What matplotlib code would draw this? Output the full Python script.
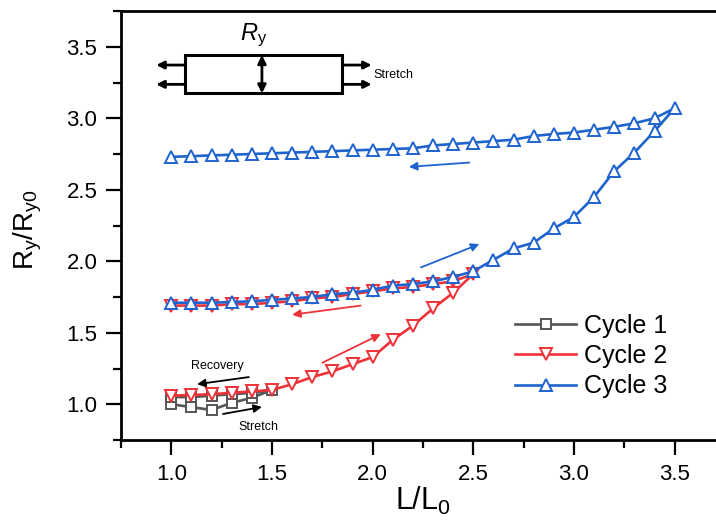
import numpy as np
import matplotlib.pyplot as plt
from matplotlib.ticker import MultipleLocator
from matplotlib.patches import Rectangle

plt.rcParams['font.family'] = ['Liberation Sans', 'DejaVu Sans']
plt.rcParams['mathtext.fontset'] = 'custom'
plt.rcParams['mathtext.rm'] = 'Liberation Sans'
plt.rcParams['mathtext.it'] = 'Liberation Sans:italic'

# Cycle 1 (stretch 1.0 -> 1.5, recovery back)
c1_x = [1.0, 1.1, 1.2, 1.3, 1.4, 1.5, 1.4, 1.3, 1.2, 1.1, 1.0]
c1_y = [1.00, 0.98, 0.96, 1.01, 1.045, 1.10, 1.08, 1.07, 1.06, 1.05, 1.05]

# Cycle 2 (stretch 1.0 -> 2.5, recovery back)
c2_stretch_x = [1.0, 1.1, 1.2, 1.3, 1.4, 1.5, 1.6, 1.7, 1.8, 1.9, 2.0, 2.1, 2.2, 2.3, 2.4, 2.5]
c2_stretch_y = [1.06, 1.065, 1.07, 1.08, 1.09, 1.10, 1.14, 1.19, 1.23, 1.28, 1.33, 1.45, 1.55, 1.67, 1.78, 1.91]
c2_recover_x = [2.4, 2.3, 2.2, 2.1, 2.0, 1.9, 1.8, 1.7, 1.6, 1.5, 1.4, 1.3, 1.2, 1.1, 1.0]
c2_recover_y = [1.86, 1.84, 1.82, 1.81, 1.79, 1.77, 1.75, 1.74, 1.72, 1.71, 1.70, 1.70, 1.69, 1.69, 1.69]

# Cycle 3 (stretch 1.0 -> 3.5, recovery back)
c3_stretch_x = [1.0, 1.1, 1.2, 1.3, 1.4, 1.5, 1.6, 1.7, 1.8, 1.9, 2.0, 2.1, 2.2, 2.3, 2.4, 2.5,
                2.6, 2.7, 2.8, 2.9, 3.0, 3.1, 3.2, 3.3, 3.4, 3.5]
c3_stretch_y = [1.71, 1.71, 1.71, 1.715, 1.72, 1.73, 1.74, 1.75, 1.77, 1.78, 1.80, 1.83, 1.84, 1.86, 1.89, 1.93,
                2.01, 2.09, 2.13, 2.23, 2.31, 2.45, 2.63, 2.76, 2.91, 3.07]
c3_recover_x = [3.4, 3.3, 3.2, 3.1, 3.0, 2.9, 2.8, 2.7, 2.6, 2.5, 2.4, 2.3, 2.2, 2.1, 2.0,
                1.9, 1.8, 1.7, 1.6, 1.5, 1.4, 1.3, 1.2, 1.1, 1.0]
c3_recover_y = [3.00, 2.965, 2.94, 2.92, 2.90, 2.89, 2.876, 2.85, 2.84, 2.83, 2.82, 2.81, 2.79, 2.785, 2.78,
                2.775, 2.77, 2.765, 2.76, 2.755, 2.75, 2.745, 2.74, 2.735, 2.73]

labels = ["Cycle 1", "Cycle 2", "Cycle 3"]
colors = ["#555555", "#EE3238", "#1F63CF"]

fig = plt.figure(figsize=(7.16, 5.28), dpi=100)
ax = fig.add_axes([121 / 716, 88 / 528, 604 / 716, 429 / 528])

mk = dict(markerfacecolor="white", markeredgewidth=1.4, linewidth=1.9)
ax.plot(c1_x, c1_y, marker="s", markersize=6.5, color=colors[0], label=labels[0], **mk)
ax.plot(c2_stretch_x + c2_recover_x, c2_stretch_y + c2_recover_y, marker="v", markersize=9,
        color=colors[1], label=labels[1], **mk)
ax.plot(c3_stretch_x + c3_recover_x, c3_stretch_y + c3_recover_y, marker="^", markersize=9,
        color=colors[2], label=labels[2], **mk)

# direction arrows
def arrow(x0, y0, x1, y1, c):
    ax.annotate("", xy=(x1, y1), xytext=(x0, y0),
                arrowprops=dict(arrowstyle="-|>", color=c, lw=1.3, mutation_scale=12,
                                shrinkA=0, shrinkB=0))

arrow(2.48, 2.69, 2.18, 2.66, colors[2])
arrow(2.24, 1.957, 2.53, 2.12, colors[2])
arrow(1.94, 1.69, 1.60, 1.626, colors[1])
arrow(1.75, 1.29, 2.04, 1.49, colors[1])
arrow(1.385, 1.19, 1.128, 1.14, "black")
arrow(1.257, 0.932, 1.45, 0.981, "black")
ax.text(1.227, 1.265, "Recovery", fontsize=9, ha="center", va="center")
ax.text(1.434, 0.84, "Stretch", fontsize=9, ha="center", va="center")

# schematic of the sample
ax.add_patch(Rectangle((1.07, 3.174), 0.78, 0.268, fill=False, lw=2.2, ec="black"))
ax.annotate("", xy=(1.45, 3.442), xytext=(1.45, 3.174),
            arrowprops=dict(arrowstyle="<|-|>", color="black", lw=2, mutation_scale=12,
                            shrinkA=0, shrinkB=0))
for yy in (3.372, 3.237):
    ax.annotate("", xy=(0.925, yy), xytext=(1.07, yy),
                arrowprops=dict(arrowstyle="-|>", color="black", lw=2, mutation_scale=11,
                                shrinkA=0, shrinkB=0))
    ax.annotate("", xy=(1.995, yy), xytext=(1.85, yy),
                arrowprops=dict(arrowstyle="-|>", color="black", lw=2, mutation_scale=11,
                                shrinkA=0, shrinkB=0))
ax.text(2.005, 3.30, "Stretch", fontsize=9, ha="left", va="center")
ax.text(1.41, 3.58, r"$\mathit{R}_\mathrm{y}$", fontsize=17, ha="center", va="center")

ax.set_xlim(0.75, 3.75)
ax.set_ylim(0.75, 3.75)
ax.xaxis.set_minor_locator(MultipleLocator(0.25))
ax.yaxis.set_minor_locator(MultipleLocator(0.25))
ax.set_xticks([1.0, 1.5, 2.0, 2.5, 3.0, 3.5])
ax.set_yticks([1.0, 1.5, 2.0, 2.5, 3.0, 3.5])
ax.tick_params(which="major", direction="out", length=11, width=1.6, labelsize=16, pad=6)
ax.tick_params(which="minor", direction="out", length=5.5, width=1.6)
for s in ax.spines.values():
    s.set_linewidth(2)

ax.set_xlabel(r"L/L$_0$", fontsize=22, labelpad=0)
ax.set_ylabel(r"R$_\mathrm{y}$/R$_\mathrm{y0}$", fontsize=20)
ax.yaxis.set_label_coords(-0.128, 0.49)

ax.legend(loc="center left", bbox_to_anchor=(515 / 716, 172 / 528), bbox_transform=fig.transFigure,
          frameon=False, fontsize=18, handlelength=2.45, handletextpad=0.3, labelspacing=0.25,
          borderpad=0, borderaxespad=0)

plt.savefig("out.png", dpi=100)
